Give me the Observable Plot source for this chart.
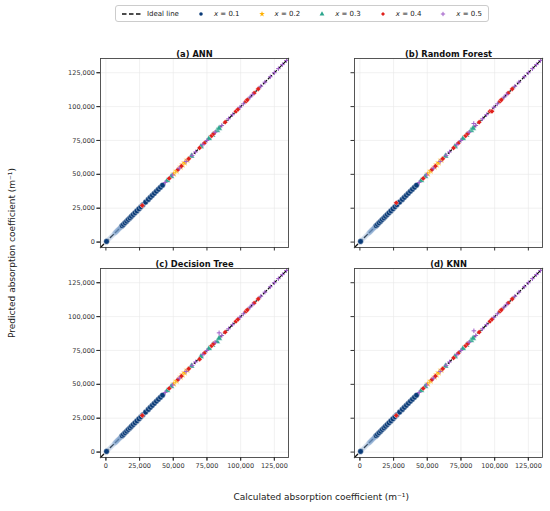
<!DOCTYPE html>
<html><head><meta charset="utf-8">
<script src="https://cdn.jsdelivr.net/npm/d3@7"></script>
<script src="https://cdn.jsdelivr.net/npm/@observablehq/plot@0.6"></script>
<style>
body{margin:0;background:#fff;font-family:"DejaVu Sans",sans-serif;}
#wrap{position:relative;width:550px;height:511px;}
#legend{position:absolute;left:115px;top:5px;height:17px;display:flex;align-items:center;padding:0 6px;border:1px solid #ccc;border-radius:3px;font-size:7px;color:#222;box-sizing:border-box;}
#legend .it{display:flex;align-items:center;margin-right:14px;}
#legend .it:last-child{margin-right:0;}
#legend svg{display:block;margin-right:5px;}
#chart{position:absolute;left:0;top:30px;}
.lab{position:absolute;font-size:9px;color:#222;white-space:nowrap;}
</style></head>
<body><div id="wrap"><div id="legend"></div><div id="chart"></div>
<div class="lab" id="xl"></div><div class="lab" id="yl"></div></div>
<script>
// ---- data ----
const models = ["(a) ANN", "(b) Random Forest", "(c) Decision Tree", "(d) KNN"];
const seriesNames = ["x = 0.1", "x = 0.2", "x = 0.3", "x = 0.4", "x = 0.5"];
const tickValues = [0, 25000, 50000, 75000, 100000, 125000];
const axisDomain = [-4000, 135500];
const idealLabel = "Ideal line";
const xLabel = "Calculated absorption coefficient (m\u207B\u00B9)";
const yLabel = "Predicted absorption coefficient (m\u207B\u00B9)";

const x01 = [500, 12000, 13000, 14200, 15400, 16600, 17800, 19000, 20300, 21600, 23000, 24500, 26000, 27500, 29500, 31500, 33000, 34500, 36000, 37500, 39000, 40500, 42000];
const x01faintLow = [2000, 2800, 3600, 4400, 5200, 6000];
const x01faintHigh = [6800, 7600, 8400, 9200, 10000, 10800, 11400];
const x02 = [50500, 52500, 55500, 57000, 58500, 60500];
const x03 = [45500, 48500, 63500, 70500, 76500, 79000, 82500, 84000];
const x04 = [27000, 47000, 53500, 56000, 61500, 69500, 73000, 78500, 80000, 88500, 96500, 98000, 104000, 105000, 110000, 113000];
const x05 = [44000, 49500, 54500, 59500, 64000, 66500, 72000, 75000, 81000, 86000, 91000, 94000, 99500, 102000, 107000, 109000, 115000, 118000, 122000, 125000, 128000, 131000, 134000];
// model-specific deviating predictions: [series index, calculated, predicted]
const annDev = [];
const rfDev = [[4, 84500, 87500], [3, 27000, 29000], [3, 98000, 96500]];
const dtDev = [[4, 84000, 88000], [3, 69500, 68500], [2, 82500, 81500]];
const knnDev = [[4, 84600, 89500]];
const deviations = [annDev, rfDev, dtDev, knnDev];

// ---- styles ----
const colors = ["#0a3b78", "#ffb000", "#2ca58d", "#e0201c", "#a15fc9"];
const symbols = ["circle", "star", "triangle", "diamond2", "plus"];
const faintColor = "#6f97c6";
const col = ["L", "R", "L", "R"], row = ["T", "T", "B", "B"];

const seriesVals = [x01, x02, x03, x04, x05];
const rows = [], faintLo = [], faintHi = [];
models.forEach((m, mi) => {
  const dev = deviations[mi];
  x01faintLow.forEach(c => faintLo.push({fx: col[mi], fy: row[mi], calc: c, pred: c}));
  x01faintHigh.forEach(c => faintHi.push({fx: col[mi], fy: row[mi], calc: c, pred: c}));
  seriesVals.forEach((vals, si) => {
    vals.forEach(c => {
      const d = dev.find(e => e[0] === si && e[1] === c);
      rows.push({fx: col[mi], fy: row[mi], s: si, calc: c, pred: d ? d[2] : c});
    });
    dev.filter(e => e[0] === si && !vals.includes(e[1])).forEach(e =>
      rows.push({fx: col[mi], fy: row[mi], s: si, calc: e[1], pred: e[2]}));
  });
});
const titles = models.map((m, i) => ({fx: col[i], fy: row[i], t: m}));
const fmt = d3.format(",");

const marks = [
  Plot.gridX({ticks: tickValues, stroke: "#e8e8e8", strokeOpacity: 1, strokeWidth: 0.6, facetAnchor: null}),
  Plot.gridY({ticks: tickValues, stroke: "#e8e8e8", strokeOpacity: 1, strokeWidth: 0.6, facetAnchor: null}),
  Plot.line(axisDomain, {x: d => d, y: d => d, stroke: "#111", strokeWidth: 1.3, strokeDasharray: "4.5,2.5"}),
  Plot.dot(faintLo, {x: "calc", y: "pred", fx: "fx", fy: "fy", r: 2.5, fill: faintColor, fillOpacity: 0.15, stroke: "none"}),
  Plot.dot(faintHi, {x: "calc", y: "pred", fx: "fx", fy: "fy", r: 2.6, fill: faintColor, fillOpacity: 0.4, stroke: "none"})
];
seriesNames.forEach((n, si) => {
  const data = rows.filter(d => d.s === si);
  const isStroke = symbols[si] === "plus";
  marks.push(Plot.dot(data, {
    x: "calc", y: "pred", fx: "fx", fy: "fy", symbol: () => symbols[si],
    r: si === 0 ? 2.8 : isStroke ? 1.6 : 2.4,
    fill: isStroke ? "none" : colors[si],
    stroke: isStroke ? colors[si] : "white",
    strokeWidth: isStroke ? 1 : 0.4
  }));
});
marks.push(
  Plot.frame({stroke: "#444", strokeWidth: 0.9}),
  Plot.axisX({ticks: tickValues, tickSize: 3.5, tickFormat: () => "", label: null, stroke: "#333", facetAnchor: null}),
  Plot.axisY({ticks: tickValues, tickSize: 3.5, tickFormat: () => "", label: null, stroke: "#333", facetAnchor: null}),
  Plot.axisX({ticks: tickValues, tickSize: 3.5, tickPadding: 2, tickFormat: fmt, fontSize: 6.5, label: null, fill: "#333", stroke: "#333", facetAnchor: "bottom"}),
  Plot.axisY({ticks: tickValues, tickSize: 3.5, tickPadding: 2, tickFormat: fmt, fontSize: 6.5, label: null, fill: "#333", stroke: "#333", facetAnchor: "left"}),
  Plot.text(titles, {fx: "fx", fy: "fy", text: "t", frameAnchor: "top", dy: -7, fontWeight: "bold", fontSize: 8.3, fill: "#111"})
);

const chart = Plot.plot({
  width: 550, height: 481,
  marginLeft: 99, marginRight: 7, marginTop: 27, marginBottom: 53,
  style: {fontFamily: "DejaVu Sans", color: "#333", background: "white"},
  x: {domain: axisDomain},
  y: {domain: axisDomain},
  fx: {domain: ["L", "R"], paddingInner: 0.2588, paddingOuter: 0, axis: null},
  fy: {domain: ["T", "B"], paddingInner: 0.0995, paddingOuter: 0, axis: null},
  marks
});
document.getElementById("chart").appendChild(chart);

// ---- legend ----
const lg = document.getElementById("legend");
function item(svgInner, w, label, italic) {
  const it = document.createElement("div"); it.className = "it";
  it.innerHTML = `<svg width="${w}" height="10" viewBox="0 0 ${w} 10">${svgInner}</svg>`;
  const sp = document.createElement("span");
  if (italic) sp.innerHTML = label.replace("x", "<i>x</i>"); else sp.textContent = label;
  it.appendChild(sp); lg.appendChild(it);
}
item(`<line x1="0" x2="20" y1="5" y2="5" stroke="#111" stroke-width="1.3" stroke-dasharray="4.5,2.5"/>`, 20, idealLabel, false);
seriesNames.forEach((n, si) => {
  const p = d3.symbol(d3[{circle: "symbolCircle", star: "symbolStar", triangle: "symbolTriangle", diamond2: "symbolDiamond2", plus: "symbolPlus"}[symbols[si]]], symbols[si] === "plus" ? 7 : 10)();
  const st = symbols[si] === "plus" ? `fill="none" stroke="${colors[si]}" stroke-width="1"` : `fill="${colors[si]}"`;
  item(`<path transform="translate(8,5)" d="${p}" ${st}/>`, 16, n, true);
});

// ---- axis labels ----
const xl = document.getElementById("xl");
xl.textContent = xLabel;
xl.style.left = (321 - xl.offsetWidth / 2) + "px"; xl.style.top = (497 - xl.offsetHeight / 2) + "px";
const yl = document.getElementById("yl");
yl.textContent = yLabel;
yl.style.left = (12 - yl.offsetWidth / 2) + "px"; yl.style.top = (253 - yl.offsetHeight / 2) + "px";
yl.style.transform = "rotate(-90deg)";
</script></body></html>
